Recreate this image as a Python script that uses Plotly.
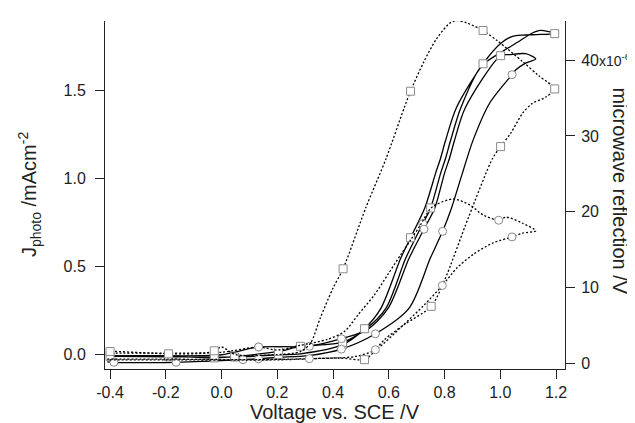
import plotly.graph_objects as go

# ---------------- data ----------------
# Photocurrent loops (left axis, mA cm^-2). Marker codes: "s" square, "o" circle, "" none
loopA_x = [-0.41, -0.40, -0.19, 0.047, 0.204, 0.283, 0.434, 0.513, 0.572, 0.643, 0.678, 0.729, 0.768, 0.786, 0.803,
           0.842, 0.938, 1.003, 1.044, 1.115, 1.195,
           1.144, 1.115, 1.068, 1.009, 0.932, 0.858, 0.821, 0.804, 0.786, 0.750, 0.722, 0.661, 0.590, 0.52, 0.434,
           0.283, 0.204, -0.026, -0.19, -0.41]
loopA_j = [-0.009, -0.009, -0.012, -0.013, 0.0, 0.005, 0.057, 0.148, 0.265, 0.549, 0.665, 0.834, 1.032, 1.118, 1.214,
           1.402, 1.653, 1.771, 1.809, 1.818, 1.824,
           1.843, 1.828, 1.781, 1.724, 1.640, 1.402, 1.214, 1.118, 1.032, 0.834, 0.745, 0.549, 0.265, 0.15, 0.07,
           0.048, 0.019, -0.018, -0.006, -0.006]
loopA_mk = ["", "s", "s", "s", "s", "", "s", "s", "", "", "s", "", "", "", "",
            "", "s", "", "", "", "s",
            "", "", "", "", "", "", "", "", "", "s", "o", "", "", "", "s",
            "s", "s", "s", "", ""]

loopB_x = [-0.41, -0.386, -0.163, 0.077, 0.133, 0.2, 0.313, 0.43, 0.552, 0.673, 0.749, 0.793, 0.825, 0.864, 0.903,
           0.962, 1.042, 1.056, 1.091, 1.127,
           1.091, 1.033, 1.001, 0.874, 0.835, 0.818, 0.800, 0.765, 0.726, 0.673, 0.598, 0.52, 0.43, 0.315, 0.133,
           0.0, -0.2, -0.41]
loopB_j = [-0.040, -0.043, -0.043, -0.028, -0.023, -0.015, -0.005, 0.032, 0.119, 0.265, 0.549, 0.701, 0.834, 1.032, 1.222,
           1.430, 1.591, 1.619, 1.657, 1.680,
           1.710, 1.705, 1.699, 1.402, 1.214, 1.118, 1.032, 0.834, 0.713, 0.549, 0.265, 0.14, 0.091, 0.048, 0.044,
           0.0, -0.006, -0.006]
loopB_mk = ["", "o", "o", "o", "o", "", "", "o", "o", "", "", "o", "", "", "",
            "", "o", "", "", "",
            "", "", "s", "", "", "", "", "", "o", "", "", "", "o", "o", "o",
            "", "", ""]

# Microwave reflection loops (right axis, units of 1e-6 V)
mwA_x = [-0.41, -0.40, -0.19, -0.06, -0.026, 0.0, 0.05, 0.2, 0.283, 0.319, 0.354, 0.40, 0.436, 0.517, 0.591, 0.655,
         0.678, 0.726, 0.773, 0.82, 0.844, 0.879, 0.938, 0.991, 1.08, 1.139, 1.195,
         1.162, 1.115, 1.08, 1.038, 1.001, 0.973, 0.885, 0.80, 0.752, 0.655, 0.584, 0.537, 0.513, 0.42, 0.2, -0.2, -0.41]
mwA_v = [1.5, 1.6, 1.3, 1.4, 1.7, 2.2, 1.2, 1.2, 1.6, 2.7, 6.0, 9.97, 12.5, 20.5, 27.1, 33.7,
         35.9, 39.8, 42.9, 44.9, 45.2, 44.9, 43.9, 42.5, 39.8, 37.9, 36.2,
         35.1, 34.3, 33.0, 30.4, 28.6, 27.1, 19.2, 11.0, 7.56, 5.14, 3.16, 1.19, 0.53, 0.75, 0.5, 0.5, 0.5]
mwA_mk = ["", "s", "s", "", "s", "", "", "", "", "", "", "", "s", "", "", "",
          "s", "", "", "", "", "", "s", "", "", "", "s",
          "", "", "", "", "s", "", "", "", "s", "", "", "", "s", "", "", "", ""]

mwB_x = [-0.41, -0.2, 0.0, 0.133, 0.2, 0.28, 0.38, 0.442, 0.49, 0.549, 0.596, 0.643, 0.679, 0.714, 0.749, 0.772,
         0.832, 0.891, 0.938, 0.994, 1.021, 1.08, 1.127,
         1.08, 1.042, 0.973, 0.903, 0.844, 0.792, 0.726, 0.655, 0.552, 0.48, 0.315, 0.124, -0.2, -0.41]
mwB_v = [1.4, 1.4, 1.5, 2.2, 1.8, 2.4, 3.2, 4.27, 6.46, 9.09, 11.73, 14.36, 16.34, 18.31, 20.42, 21.0,
         21.7, 20.9, 19.6, 18.9, 19.3, 18.5, 17.5,
         17.2, 16.7, 15.9, 14.4, 12.6, 10.3, 7.7, 5.2, 1.84, 0.95, 0.66, 0.53, 0.6, 0.6]
mwB_mk = ["", "", "", "o", "", "", "", "", "", "", "", "", "", "", "", "",
          "", "", "", "o", "", "", "",
          "", "o", "", "", "", "o", "", "", "o", "", "o", "", "", ""]

x_ticks = [-0.4, -0.2, 0.0, 0.2, 0.4, 0.6, 0.8, 1.0, 1.2]
j_ticks = [0.0, 0.5, 1.0, 1.5]
mw_ticks = [0, 10, 20, 30, 40]
mw_tick_text = ["0", "10", "20", "30", "40<span style='font-size:14px'>x10<sup>-6</sup></span>"]

# ---------------- figure ----------------
FONT = "Liberation Sans, Arial, sans-serif"
INK = "#222222"
MK_LINE = "#8a8a8a"

fig = go.Figure()

def add_curve(xs, ys, axis, dash, scale=1.0):
    yv = [v * scale for v in ys]
    fig.add_trace(go.Scatter(x=xs, y=yv, mode="lines", yaxis=axis,
                             line=dict(color="black", width=1.3, dash=dash, shape="spline", smoothing=0.8),
                             hoverinfo="skip"))

def add_markers(xs, ys, mk, axis, scale=1.0):
    for code, sym in (("s", "square"), ("o", "circle")):
        px = [x for x, m in zip(xs, mk) if m == code]
        py = [y * scale for y, m in zip(ys, mk) if m == code]
        if px:
            fig.add_trace(go.Scatter(x=px, y=py, mode="markers", yaxis=axis,
                                     marker=dict(symbol=sym, size=8, color="white",
                                                 line=dict(color=MK_LINE, width=1)),
                                     hoverinfo="skip"))

add_curve(mwA_x, mwA_v, "y2", "2px,2px", 1e-6)
add_curve(mwB_x, mwB_v, "y2", "2px,2px", 1e-6)
add_curve(loopA_x, loopA_j, "y", "solid")
add_curve(loopB_x, loopB_j, "y", "solid")
add_markers(mwA_x, mwA_v, mwA_mk, "y2", 1e-6)
add_markers(mwB_x, mwB_v, mwB_mk, "y2", 1e-6)
add_markers(loopA_x, loopA_j, loopA_mk, "y")
add_markers(loopB_x, loopB_j, loopB_mk, "y")

axis_common = dict(showgrid=False, zeroline=False, showline=True, linecolor=INK, linewidth=1,
                   ticks="outside", ticklen=9, tickwidth=1, tickcolor=INK,
                   tickfont=dict(family=FONT, size=16, color=INK))

fig.update_layout(
    width=635, height=423,
    margin=dict(l=97, r=73, t=13, b=62),
    paper_bgcolor="white", plot_bgcolor="white",
    showlegend=False,
    font=dict(family=FONT, color=INK),
    xaxis=dict(range=[-0.418, 1.232], tickvals=x_ticks, ticktext=[f"{v:.1f}" for v in x_ticks], **axis_common),
    yaxis=dict(range=[-0.081, 1.896], tickvals=j_ticks, ticktext=[f"{v:.1f}" for v in j_ticks],
               ticklabelstandoff=6, **axis_common),
    yaxis2=dict(range=[-0.7e-6, 45.15e-6], overlaying="y", side="right",
                tickvals=[v * 1e-6 for v in mw_ticks], ticktext=mw_tick_text,
                ticklabelstandoff=3, **axis_common),
    annotations=[
        dict(text="Voltage vs. SCE /V", xref="paper", yref="paper", x=0.499, y=-0.086,
             xanchor="center", yanchor="top", showarrow=False, font=dict(family=FONT, size=20, color=INK)),
        dict(text="J<sub>photo</sub> /mAcm<sup>-2</sup>", xref="paper", yref="paper", x=-0.165, y=0.5,
             xanchor="center", yanchor="middle", textangle=-90, showarrow=False,
             font=dict(family=FONT, size=20, color=INK)),
        dict(text="microwave reflection /V", xref="paper", yref="paper", x=1.119, y=0.511,
             xanchor="center", yanchor="middle", textangle=90, showarrow=False,
             font=dict(family=FONT, size=20, color=INK)),
    ],
)

fig.write_html("out.html")
